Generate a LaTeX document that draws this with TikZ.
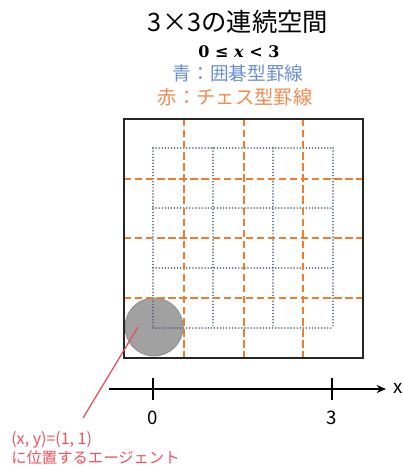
\documentclass[tikz,border=0pt]{standalone}
\usepackage[no-math]{fontspec}
\setmainfont{Noto Sans CJK JP}
\newfontfamily\serifmath{DejaVu Serif}
\usetikzlibrary{arrows.meta}
\definecolor{gridblue}{HTML}{4A5A76}
\definecolor{chessorange}{HTML}{ED7D31}
\definecolor{txtblue}{HTML}{6A8ED6}
\definecolor{txtorange}{HTML}{F08A4E}
\definecolor{agentred}{HTML}{F04F5A}
\tikzset{
  goline/.style={gridblue, line width=1.3pt, line cap=round, dash pattern=on 0pt off 2.3pt},
  chessline/.style={chessorange, line width=1.7pt, dash pattern=on 5.5pt off 2.8pt},
  frame/.style={black!85, line width=2pt},
  axisline/.style={black, line width=1.1pt},
  tickline/.style={black, line width=1.4pt},
  lbl/.style={inner sep=0pt, anchor=center},
}
\begin{document}
\begin{tikzpicture}[x=0.75pt,y=-0.75pt]
\useasboundingbox (0,0) rectangle (403,468);
% titles
\node[lbl] (title) at (238,22) {\fontsize{19pt}{22pt}\selectfont 3×3の連続空間};
\node[lbl] (rangelbl) at (239,52) {\fontsize{12pt}{14pt}\selectfont\serifmath\bfseries 0 ≤ \textit{x} < 3};
\node[lbl, text=txtblue] (bluelbl) at (238,73) {\fontsize{14pt}{16pt}\selectfont 青：囲碁型罫線};
\node[lbl, text=txtorange] (orangelbl) at (235,97) {\fontsize{14.5pt}{16pt}\selectfont 赤：チェス型罫線};
% agent circle
\node[circle, minimum size=43.5pt, inner sep=0pt, fill=black!37, draw=black!45, line width=0.6pt] (agent) at (154,327) {};
% go grid (blue dotted)
\foreach \v in {153,213,273,333} {
  \draw[goline] (\v,148) -- (\v,328);
}
\foreach \h in {148,208,268,328} {
  \draw[goline] (153,\h) -- (333,\h);
}
% chess grid (orange dashed)
\foreach \v in {184,244,303} {
  \draw[chessline] (\v,119) -- (\v,358);
}
\foreach \h in {179,238,298} {
  \draw[chessline] (124,\h) -- (363,\h);
}
% frame
\draw[frame] (124,119) rectangle (363,358);
% axis
\coordinate (axstart) at (109,389);
\coordinate (axend) at (386,389);
\draw[axisline, -{Stealth[length=7pt,width=6pt]}] (axstart) -- (axend);
\node[lbl] (xlbl) at (398,388) {\fontsize{14pt}{16pt}\selectfont x};
\coordinate (t0a) at (153,378); \coordinate (t0b) at (153,400);
\coordinate (t3a) at (332,378); \coordinate (t3b) at (332,400);
\draw[tickline] (t0a) -- (t0b);
\draw[tickline] (t3a) -- (t3b);
\node[lbl] (zero) at (153,418) {\fontsize{14pt}{16pt}\selectfont 0};
\node[lbl] (three) at (332,418) {\fontsize{14pt}{16pt}\selectfont 3};
% agent label
\node[lbl, anchor=west, text=agentred] (agentlbl1) at (11,440) {\fontsize{12pt}{13pt}\selectfont (x, y)=(1, 1)};
\node[lbl, anchor=west, text=agentred] (agentlbl2) at (11,458) {\fontsize{11.5pt}{13pt}\selectfont に位置するエージェント};
\coordinate (ptr) at (138,327);
\coordinate (ptrend) at (83,418);
\draw[agentred!90!red, line width=0.9pt] (ptr) -- (ptrend);
\end{tikzpicture}
\end{document}
